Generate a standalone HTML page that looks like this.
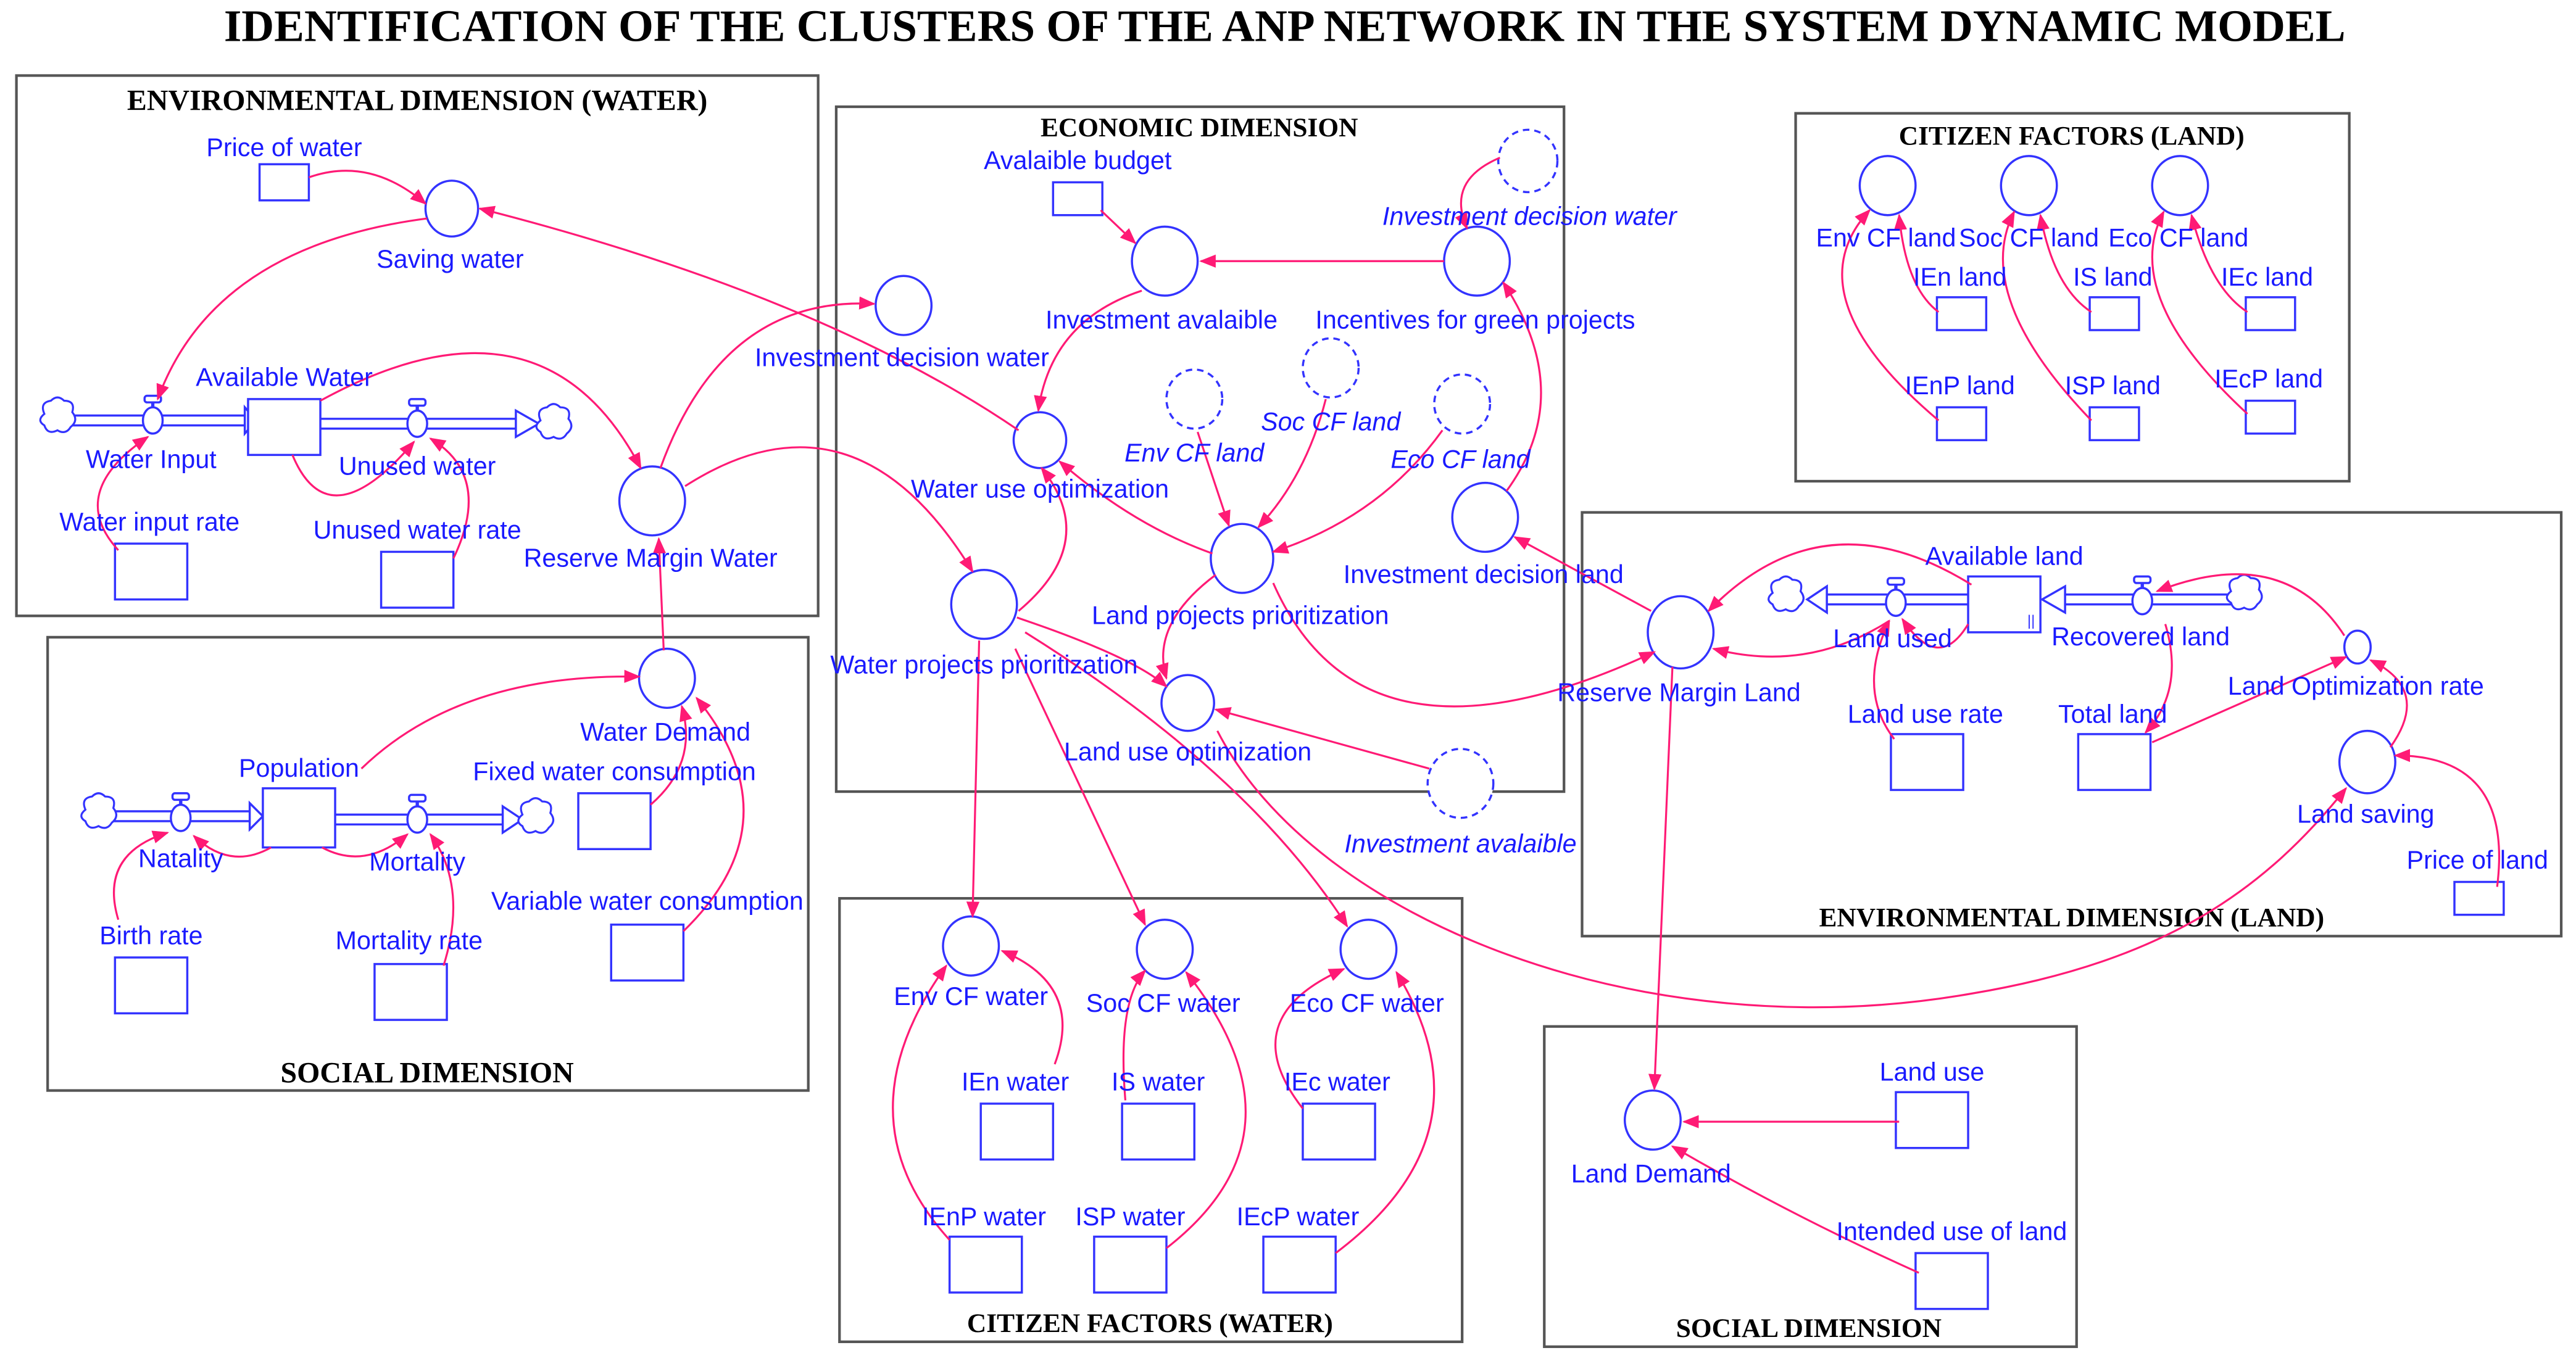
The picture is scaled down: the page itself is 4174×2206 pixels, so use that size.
<!DOCTYPE html>
<html><head><meta charset="utf-8"><style>
html,body{margin:0;padding:0;background:#fff;}
svg{display:block;}
.t{font-family:"Liberation Sans",Arial,sans-serif;font-size:15.5px;fill:#1a1aff;text-anchor:middle;}
.i{font-style:italic;}
.h{font-family:"Liberation Serif",serif;font-weight:bold;font-size:18px;fill:#000;text-anchor:middle;}
.box{fill:none;stroke:#555;stroke-width:1.6;}
.c{fill:#fff;stroke:#3333ff;stroke-width:1.3;}
.d{fill:#fff;stroke:#3333ff;stroke-width:1.3;stroke-dasharray:4 3;}
.r{fill:#fff;stroke:#3333ff;stroke-width:1.3;}
.a{fill:none;stroke:#ff1a75;stroke-width:1.2;marker-end:url(#m);}
.p{fill:none;stroke:#3333ff;stroke-width:1.3;}
</style></head><body>
<svg width="4174" height="2206" viewBox="0 0 1568 828.7" preserveAspectRatio="none" xmlns="http://www.w3.org/2000/svg">
<defs>
<marker id="m" markerUnits="userSpaceOnUse" markerWidth="10" markerHeight="8" refX="9" refY="4" orient="auto"><path d="M0,0 L10,4 L0,8 z" fill="#ff1a75"/></marker>
<g id="cloud"><path d="M-8,-4 q-3,-7 4,-8 q4,-4 8,0 q7,0 5,7 q4,5 -1,9 q-3,5 -8,2 q-6,3 -8,-3 q-5,-3 0,-7z" fill="#fff" stroke="#3333ff" stroke-width="1.2"/></g>
<g id="valve"><rect x="-5" y="-15" width="10" height="4" rx="1.5" class="c"/><line x1="0" y1="-11" x2="0" y2="-7" stroke="#3333ff" stroke-width="2"/><ellipse cx="0" cy="0" rx="6" ry="8" class="c"/></g>
</defs>
<rect width="1568" height="828.7" fill="#fff"/>
<text x="782" y="25" class="h" style="font-size:27.5px">IDENTIFICATION OF THE CLUSTERS OF THE ANP NETWORK IN THE SYSTEM DYNAMIC MODEL</text>

<rect x="10" y="46" width="488" height="329" class="box"/>
<rect x="29" y="388" width="463" height="276" class="box"/>
<rect x="509" y="65" width="443" height="417" class="box"/>
<rect x="1093" y="69" width="337" height="224" class="box"/>
<rect x="963" y="312" width="596" height="258" class="box"/>
<rect x="511" y="547" width="379" height="270" class="box"/>
<rect x="940" y="625" width="324" height="195" class="box"/>
<text x="254" y="67" class="h">ENVIRONMENTAL DIMENSION (WATER)</text>
<text x="260" y="659" class="h">SOCIAL DIMENSION</text>
<text x="730" y="83" class="h" style="font-size:16.3px">ECONOMIC DIMENSION</text>
<text x="1261" y="88" class="h" style="font-size:16.3px">CITIZEN FACTORS (LAND)</text>
<text x="1261" y="564" class="h" style="font-size:16.3px">ENVIRONMENTAL DIMENSION (LAND)</text>
<text x="700" y="811" class="h" style="font-size:16.3px">CITIZEN FACTORS (WATER)</text>
<text x="1101" y="814" class="h" style="font-size:16.3px">SOCIAL DIMENSION</text>

<g class="p">
<path d="M44,253 H149 M44,259 H149"/><path d="M149,248 L156,256 L149,264z" fill="#fff"/>
<path d="M195,255 H314 M195,261 H314"/><path d="M314,250 L328,258 L314,266z" fill="#fff"/>
<path d="M68,494 H152 M68,500 H152"/><path d="M152,489 L160,497 L152,505z" fill="#fff"/>
<path d="M204,496 H306 M204,502 H306"/><path d="M306,491 L318,499 L306,507z" fill="#fff"/>
<path d="M1112,362 H1198 M1112,368 H1198"/><path d="M1112,357 L1100,365 L1112,373z" fill="#fff"/>
<path d="M1257,362 H1358 M1257,368 H1358"/><path d="M1257,357 L1243,365 L1257,373z" fill="#fff"/>
</g>
<use href="#cloud" x="35" y="256"/><use href="#cloud" x="337" y="260"/>
<use href="#cloud" x="60" y="497"/><use href="#cloud" x="326" y="500"/>
<use href="#cloud" x="1087" y="365"/><use href="#cloud" x="1366" y="364"/>
<use href="#valve" x="93" y="256"/><use href="#valve" x="254" y="258"/>
<use href="#valve" x="110" y="498"/><use href="#valve" x="254" y="499"/>
<use href="#valve" x="1154" y="367"/><use href="#valve" x="1304" y="366"/>

<rect x="151" y="243" width="44" height="34" class="r"/>
<rect x="160" y="480" width="44" height="36" class="r"/>
<rect x="1198" y="351" width="44" height="34" class="r"/>
<text x="1234" y="381" style="font-size:9px;fill:#3333ff;font-family:'Liberation Sans'">||</text>
<g class="r">
<rect x="158" y="100" width="30" height="22"/>
<rect x="70" y="331" width="44" height="34"/>
<rect x="232" y="336" width="44" height="34"/>
<rect x="70" y="583" width="44" height="34"/>
<rect x="228" y="587" width="44" height="34"/>
<rect x="352" y="483" width="44" height="34"/>
<rect x="372" y="563" width="44" height="34"/>
<rect x="641" y="111" width="30" height="20"/>
<rect x="1179" y="181" width="30" height="20"/>
<rect x="1272" y="181" width="30" height="20"/>
<rect x="1367" y="181" width="30" height="20"/>
<rect x="1179" y="248" width="30" height="20"/>
<rect x="1272" y="248" width="30" height="20"/>
<rect x="1367" y="244" width="30" height="20"/>
<rect x="1151" y="447" width="44" height="34"/>
<rect x="1265" y="447" width="44" height="34"/>
<rect x="1494" y="537" width="30" height="20"/>
<rect x="597" y="672" width="44" height="34"/>
<rect x="683" y="672" width="44" height="34"/>
<rect x="793" y="672" width="44" height="34"/>
<rect x="578" y="753" width="44" height="34"/>
<rect x="666" y="753" width="44" height="34"/>
<rect x="769" y="753" width="44" height="34"/>
<rect x="1154" y="665" width="44" height="34"/>
<rect x="1166" y="763" width="44" height="34"/>
</g>

<ellipse cx="275" cy="127" rx="16" ry="17" class="c"/>
<ellipse cx="397" cy="305" rx="20" ry="21" class="c"/>
<ellipse cx="406" cy="413" rx="17" ry="18" class="c"/>
<ellipse cx="709" cy="159" rx="20" ry="21" class="c"/>
<ellipse cx="899" cy="159" rx="20" ry="21" class="c"/>
<ellipse cx="930" cy="98" rx="18" ry="19" class="d"/>
<ellipse cx="550" cy="186" rx="17" ry="18" class="c"/>
<ellipse cx="633" cy="268" rx="16" ry="17" class="c"/>
<ellipse cx="727" cy="243" rx="17" ry="18" class="d"/>
<ellipse cx="810" cy="224" rx="17" ry="18" class="d"/>
<ellipse cx="890" cy="246" rx="17" ry="18" class="d"/>
<ellipse cx="756" cy="340" rx="19" ry="21" class="c"/>
<ellipse cx="904" cy="315" rx="20" ry="21" class="c"/>
<ellipse cx="599" cy="368" rx="20" ry="21" class="c"/>
<ellipse cx="723" cy="428" rx="16" ry="17" class="c"/>
<ellipse cx="889" cy="477" rx="20" ry="21" class="d"/>
<ellipse cx="1149" cy="113" rx="17" ry="18" class="c"/>
<ellipse cx="1235" cy="113" rx="17" ry="18" class="c"/>
<ellipse cx="1327" cy="113" rx="17" ry="18" class="c"/>
<ellipse cx="1023" cy="385" rx="20" ry="22" class="c"/>
<ellipse cx="1435" cy="394" rx="8" ry="10" class="c"/>
<ellipse cx="1441" cy="464" rx="17" ry="19" class="c"/>
<ellipse cx="591" cy="576" rx="17" ry="18" class="c"/>
<ellipse cx="709" cy="578" rx="17" ry="18" class="c"/>
<ellipse cx="833" cy="578" rx="17" ry="18" class="c"/>
<ellipse cx="1006" cy="682" rx="17" ry="18" class="c"/>

<g>
<path class="a" d="M188,108 Q225,95 259,124"/>
<path class="a" d="M260,133 Q130,150 96,243"/>
<path class="a" d="M195,244 Q330,170 390,285"/>
<path class="a" d="M402,285 Q440,180 532,185"/>
<path class="a" d="M417,296 Q520,230 592,348"/>
<path class="a" d="M620,262 Q500,180 292,127"/>
<path class="a" d="M72,335 Q40,300 90,266"/>
<path class="a" d="M178,277 Q200,330 252,269"/>
<path class="a" d="M276,340 Q300,290 262,267"/>
<path class="a" d="M404,396 L401,328"/>
<path class="a" d="M220,468 Q280,410 389,412"/>
<path class="a" d="M396,490 Q425,465 415,430"/>
<path class="a" d="M416,567 Q485,500 424,425"/>
<path class="a" d="M72,560 Q60,520 102,507"/>
<path class="a" d="M165,516 Q140,530 118,509"/>
<path class="a" d="M196,516 Q222,530 248,508"/>
<path class="a" d="M270,588 Q285,540 262,508"/>
<path class="a" d="M670,128 L691,148"/>
<path class="a" d="M879,159 L731,159"/>
<path class="a" d="M913,96 Q880,110 893,139"/>
<path class="a" d="M917,299 Q960,240 915,172"/>
<path class="a" d="M695,177 Q640,195 632,250"/>
<path class="a" d="M620,372 Q670,330 634,285"/>
<path class="a" d="M738,337 Q690,320 645,281"/>
<path class="a" d="M729,263 L748,320"/>
<path class="a" d="M807,243 Q795,290 766,321"/>
<path class="a" d="M878,262 Q840,315 775,336"/>
<path class="a" d="M740,350 Q700,380 710,413"/>
<path class="a" d="M619,376 Q690,400 710,418"/>
<path class="a" d="M870,468 L740,432"/>
<path class="a" d="M775,355 Q830,480 1007,397"/>
<path class="a" d="M1005,372 L922,327"/>
<path class="a" d="M596,390 L592,558"/>
<path class="a" d="M618,395 L697,563"/>
<path class="a" d="M624,385 Q760,470 820,564"/>
<path class="a" d="M741,445 C800,560 1000,640 1200,605 C1320,585 1380,540 1428,480"/>
<path class="a" d="M1200,356 Q1110,300 1040,372"/>
<path class="a" d="M1150,378 Q1100,410 1043,395"/>
<path class="a" d="M1198,380 Q1180,410 1158,377"/>
<path class="a" d="M1153,450 Q1130,420 1150,378"/>
<path class="a" d="M1310,452 L1428,400"/>
<path class="a" d="M1427,387 Q1390,330 1313,360"/>
<path class="a" d="M1455,455 Q1480,420 1443,402"/>
<path class="a" d="M1520,540 Q1530,460 1458,460"/>
<path class="a" d="M1318,380 Q1330,420 1306,446"/>
<path class="a" d="M1018,406 L1007,663"/>
<path class="a" d="M1156,683 L1025,683"/>
<path class="a" d="M1168,775 Q1090,740 1018,698"/>
<path class="a" d="M1180,190 Q1160,175 1156,131"/>
<path class="a" d="M1180,256 Q1090,180 1138,128"/>
<path class="a" d="M1273,190 Q1250,175 1242,131"/>
<path class="a" d="M1273,256 Q1200,180 1226,129"/>
<path class="a" d="M1368,190 Q1345,175 1334,131"/>
<path class="a" d="M1368,252 Q1290,180 1317,129"/>
<path class="a" d="M642,648 Q660,600 610,579"/>
<path class="a" d="M578,755 Q510,680 576,588"/>
<path class="a" d="M685,670 Q680,610 697,591"/>
<path class="a" d="M710,760 Q800,690 722,592"/>
<path class="a" d="M793,675 Q750,620 818,590"/>
<path class="a" d="M813,763 Q910,690 850,592"/>
</g>

<g class="t">
<text x="173" y="95">Price of water</text>
<text x="274" y="163">Saving water</text>
<text x="173" y="235">Available Water</text>
<text x="92" y="285">Water Input</text>
<text x="254" y="289">Unused water</text>
<text x="91" y="323">Water input rate</text>
<text x="254" y="328">Unused water rate</text>
<text x="396" y="345">Reserve Margin Water</text>
<text x="405" y="451">Water Demand</text>
<text x="182" y="473">Population</text>
<text x="374" y="475">Fixed water consumption</text>
<text x="110" y="528">Natality</text>
<text x="254" y="530">Mortality</text>
<text x="394" y="554">Variable water consumption</text>
<text x="92" y="575">Birth rate</text>
<text x="249" y="578">Mortality rate</text>
<text x="656" y="103">Avalaible budget</text>
<text x="931" y="137" class="i">Investment decision water</text>
<text x="707" y="200">Investment avalaible</text>
<text x="898" y="200">Incentives for green projects</text>
<text x="549" y="223">Investment decision water</text>
<text x="810" y="262" class="i">Soc CF land</text>
<text x="727" y="281" class="i">Env CF land</text>
<text x="889" y="285" class="i">Eco CF land</text>
<text x="633" y="303">Water use optimization</text>
<text x="903" y="355">Investment decision land</text>
<text x="755" y="380">Land projects prioritization</text>
<text x="599" y="410">Water projects prioritization</text>
<text x="723" y="463">Land use optimization</text>
<text x="889" y="519" class="i">Investment avalaible</text>
<text x="1148" y="150">Env CF land</text>
<text x="1235" y="150">Soc CF land</text>
<text x="1326" y="150">Eco CF land</text>
<text x="1193" y="174">IEn land</text>
<text x="1286" y="174">IS land</text>
<text x="1380" y="174">IEc land</text>
<text x="1381" y="236">IEcP land</text>
<text x="1193" y="240">IEnP land</text>
<text x="1286" y="240">ISP land</text>
<text x="1220" y="344">Available land</text>
<text x="1152" y="394">Land used</text>
<text x="1303" y="393">Recovered land</text>
<text x="1434" y="423">Land Optimization rate</text>
<text x="1022" y="427">Reserve Margin Land</text>
<text x="1172" y="440">Land use rate</text>
<text x="1286" y="440">Total land</text>
<text x="1440" y="501">Land saving</text>
<text x="1508" y="529">Price of land</text>
<text x="591" y="612">Env CF water</text>
<text x="708" y="616">Soc CF water</text>
<text x="832" y="616">Eco CF water</text>
<text x="618" y="664">IEn water</text>
<text x="705" y="664">IS water</text>
<text x="814" y="664">IEc water</text>
<text x="599" y="746">IEnP water</text>
<text x="688" y="746">ISP water</text>
<text x="790" y="746">IEcP water</text>
<text x="1176" y="658">Land use</text>
<text x="1005" y="720">Land Demand</text>
<text x="1188" y="755">Intended use of land</text>
</g>
</svg>
</body></html>
